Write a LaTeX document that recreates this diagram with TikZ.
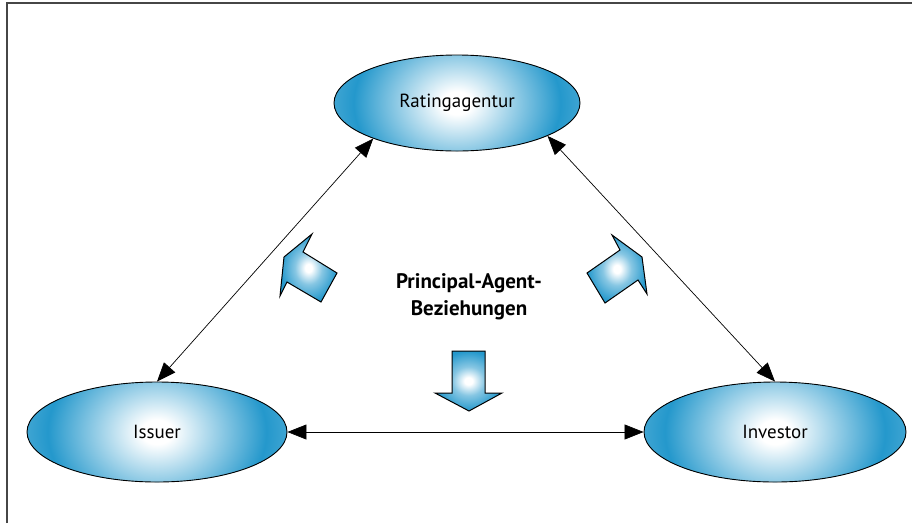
\documentclass[tikz,border=0pt]{standalone}
\usepackage{fontspec}
\setmainfont{PT Sans}
\usetikzlibrary{shapes.geometric,arrows.meta}
\definecolor{myblue}{RGB}{36,152,204}
\definecolor{framegray}{RGB}{70,70,70}
\pgfdeclareradialshading{blueball}{\pgfpoint{0bp}{0bp}}{color(0bp)=(white); color(3bp)=(white); color(21bp)=(myblue); color(25bp)=(myblue!88!white); color(50bp)=(myblue!88!white)}
\pgfdeclareradialshading{fatball}{\pgfpoint{0bp}{0bp}}{color(0bp)=(white); color(3bp)=(white); color(12bp)=(myblue!55!white); color(25bp)=(myblue); color(50bp)=(myblue!95!black)}
\tikzset{
  party/.style={ellipse, draw=black, line width=0.9pt, fill=myblue, inner sep=0pt, font=\fontsize{19}{21}\selectfont,
    path picture={\shade[shading=blueball] (path picture bounding box.center) ellipse [x radius=#1, y radius=2*#1*0.39];}},
  rel/.style={line width=0.7pt, {Triangle[length=19pt,width=15pt]}-{Triangle[length=19pt,width=15pt]}},
  fat/.style={draw=black, line width=1pt, line join=miter, shading=fatball},
  lbl/.style={align=center, font=\fontsize{21}{27}\selectfont\bfseries}
}
\begin{document}
\begin{tikzpicture}[x=1pt,y=-1pt]
\useasboundingbox (0,0) rectangle (912,523);
\fill[white] (0,0) rectangle (912,523);
\draw[framegray, line width=2pt] (7,523) -- (7,3) -- (912,3);

\node[party=123pt, minimum width=246pt, minimum height=96pt] (R) at (457,103) {Ratingagentur};
\node[party=130pt, minimum width=260pt, minimum height=100pt] (I) at (157,432) {Issuer};
\node[party=131pt, minimum width=262pt, minimum height=100pt] (V) at (775,432) {Investor};

\draw[rel] (I.north) -- (R.203);
\draw[rel] (V.north) -- (R.-20);
\draw[rel] (I.east) -- (V.west);

\node[lbl] (P) at (469,297) {Principal-Agent-\\Beziehungen};

\path[fat] (312,234) -- (303,252) -- (337,273) -- (321,302) -- (287,282) -- (280,296) -- (284,257) -- cycle;
\path[fat] (612,235) -- (620,250) -- (587,273) -- (605,303) -- (638,280) -- (647,294) -- (642,257) -- cycle;
\path[fat] (452,351) -- (485,351) -- (485,393) -- (502,393) -- (469,411) -- (435,393) -- (452,393) -- cycle;
\end{tikzpicture}
\end{document}
